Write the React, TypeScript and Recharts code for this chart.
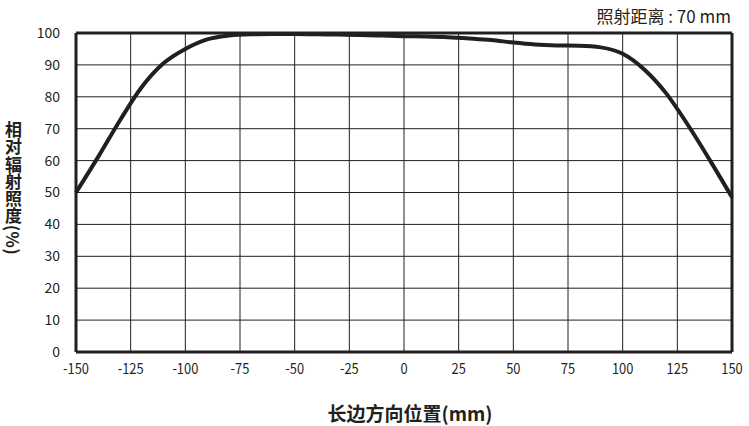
import React from 'react'
import {
  LineChart, Line, XAxis, YAxis, CartesianGrid, ReferenceLine,
} from 'recharts'

const positions = [
  -150, -140, -130, -120, -110, -100, -90, -80, -70, -60, -50, -40, -30, -20, -10,
  0, 10, 20, 30, 40, 50, 60, 70, 80, 90, 100, 110, 120, 130, 140, 150,
]
const irradiance = [
  50, 61, 72.5, 83, 90.5, 95, 98, 99.2, 99.6, 99.7, 99.7, 99.6, 99.5, 99.4, 99.2,
  99, 98.9, 98.7, 98.3, 97.8, 97, 96.4, 96.1, 96, 95.5, 93.5, 88.5, 81, 71, 60, 48.5,
]
const xTicks = [-150, -125, -100, -75, -50, -25, 0, 25, 50, 75, 100, 125, 150]
const yTicks = [0, 10, 20, 30, 40, 50, 60, 70, 80, 90, 100]

const data = positions.map((x, i) => ({ x, y: irradiance[i] }))

const INK = '#231f20'
const FONT = '"Noto Sans CJK SC", "Noto Sans", sans-serif'

// narrow x tick labels like the reference
function XTick(props: any) {
  const { x, y, payload } = props
  return (
    <g transform={`translate(${x},${y + 14}) scale(0.86,1)`}>
      <text x={0} y={0} textAnchor="middle" fontSize={15} fill={INK} fontFamily={FONT}>
        {payload.value}
      </text>
    </g>
  )
}

export default function App() {
  return (
    <div style={{ position: 'absolute', left: 0, top: 0, width: 749, height: 426, background: '#fff', fontFamily: FONT }}>
      <div style={{ position: 'absolute', right: 18, top: 3, fontSize: 17, color: INK }}>
        照射距离 : 70 mm
      </div>
      <div style={{
        position: 'absolute', left: 5, top: 121, writingMode: 'vertical-rl',
        fontSize: 17, fontWeight: 700, color: INK, lineHeight: 1, letterSpacing: 0.3,
      }}>
        相对辐射照度(%)
      </div>
      <LineChart width={749} height={426} data={data} margin={{ top: 33, right: 17, left: 0, bottom: 0 }}>
        <CartesianGrid stroke={INK} strokeWidth={1} />
        <XAxis
          dataKey="x" type="number" domain={[-150, 150]} ticks={xTicks} height={74}
          axisLine={{ stroke: INK, strokeWidth: 3 }} tickLine={false}
          tick={<XTick />}
          label={{ value: '长边方向位置(mm)', position: 'insideBottom', offset: 5, dx: 6, fill: INK, fontSize: 19, fontWeight: 700 }}
        />
        <YAxis
          type="number" domain={[0, 100]} ticks={yTicks} width={76}
          axisLine={{ stroke: INK, strokeWidth: 3 }} tickLine={false} tickMargin={10}
          tick={{ fontSize: 14, fill: INK, fontFamily: FONT }}
        />
        <ReferenceLine y={100} stroke={INK} strokeWidth={3} />
        <ReferenceLine x={150} stroke={INK} strokeWidth={3} />
        <Line type="monotone" dataKey="y" stroke={INK} strokeWidth={4} dot={false} isAnimationActive={false} />
      </LineChart>
    </div>
  )
}
